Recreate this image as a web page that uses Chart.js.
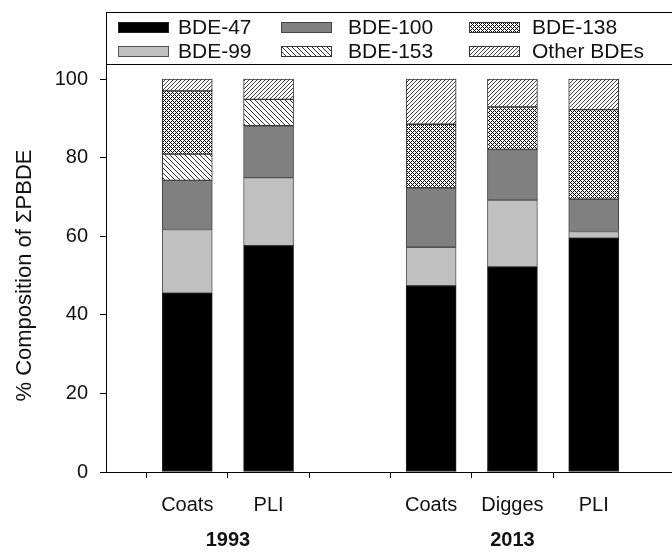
<!DOCTYPE html>
<html>
<head>
<meta charset="utf-8">
<script src="https://cdn.jsdelivr.net/npm/chart.js@4.4.0/dist/chart.umd.min.js"></script>
<style>
  html, body { margin: 0; padding: 0; background: #fff; overflow: hidden; width: 672px; height: 552px; }
  #wrap { width: 690px; height: 552px; }
</style>
</head>
<body>
<div id="wrap"><canvas id="myChart" width="690" height="552"></canvas></div>
<script>
  // categories (empty slots make the gaps between the year groups)
  var sites = ['', 'Coats', 'PLI', '', 'Coats', 'Digges', 'PLI', ''];
  var groupLabels = ['1993', '2013'];
  var groupSpans = [[1, 2], [4, 6]];

  // % composition, bottom to top
  var bde47  = [null, 45.5, 57.6, null, 47.4, 52.2, 59.5, null];
  var bde99  = [null, 16.2, 17.3, null,  9.8, 17.0,  1.7, null];
  var bde100 = [null, 12.5, 13.2, null, 15.1, 12.9,  8.2, null];
  var bde153 = [null,  6.7,  6.7, null,  0,    0,    0,   null];
  var bde138 = [null, 16.1,  0,   null, 16.2, 10.8, 22.8, null];
  var other  = [null,  3.0,  5.2, null, 11.5,  7.1,  7.8, null];

  var yTicks = [0, 20, 40, 60, 80, 100];
  var yTitle = '% Composition of \u03A3PBDE';

  var FONT = "'Liberation Sans', Arial, sans-serif";

  function makePattern(size, fn, ink) {
    var c = document.createElement('canvas');
    c.width = size; c.height = size;
    var g = c.getContext('2d');
    g.fillStyle = '#fff';
    g.fillRect(0, 0, size, size);
    g.fillStyle = ink;
    for (var x = 0; x < size; x++) {
      for (var y = 0; y < size; y++) {
        if (fn(x, y)) g.fillRect(x, y, 1, 1);
      }
    }
    return document.getElementById('myChart').getContext('2d').createPattern(c, 'repeat');
  }

  var hatchBack = makePattern(5, function (x, y) { return (x - y + 5) % 5 === 0; }, '#333');
  var hatchFwd  = makePattern(4, function (x, y) { return (x + y) % 4 === 0; }, '#444');
  var cross     = makePattern(4, function (x, y) { return (x + y) % 4 === 0 || (x - y + 4) % 4 === 0; }, '#000');

  var series = [
    { label: 'BDE-47',     data: bde47,  fill: '#000000', edge: '#222' },
    { label: 'BDE-99',     data: bde99,  fill: '#c0c0c0', edge: '#555' },
    { label: 'BDE-100',    data: bde100, fill: '#808080', edge: '#444' },
    { label: 'BDE-153',    data: bde153, fill: hatchBack, edge: '#333' },
    { label: 'BDE-138',    data: bde138, fill: cross,     edge: '#333' },
    { label: 'Other BDEs', data: other,  fill: hatchFwd,  edge: '#333' }
  ];

  var extras = {
    id: 'extras',
    afterDraw: function (chart) {
      var ctx = chart.ctx;
      var area = chart.chartArea;
      ctx.save();

      // legend box inside the top of the plot
      ctx.fillStyle = '#fff';
      ctx.fillRect(area.left, 12, 700, 53);
      ctx.strokeStyle = '#000';
      ctx.lineWidth = 1;
      ctx.strokeRect(area.left + 0.5, 12.5, 700, 52);
      var colSw = [118, 281, 469];
      var colTx = [178, 348, 532];
      var rowY = [27, 51];
      ctx.font = '21px ' + FONT;
      ctx.textBaseline = 'middle';
      ctx.textAlign = 'left';
      chart.data.datasets.forEach(function (ds, i) {
        var col = Math.floor(i / 2), row = i % 2;
        ctx.fillStyle = ds.backgroundColor;
        ctx.fillRect(colSw[col], rowY[row] - 5, 50, 10);
        ctx.strokeStyle = ds.borderColor;
        ctx.strokeRect(colSw[col] + 0.5, rowY[row] - 5 + 0.5, 50, 10);
        ctx.fillStyle = '#111';
        ctx.fillText(ds.label, colTx[col], rowY[row] + 1);
      });

      // y title, centred on the 0-100 span
      var ys = chart.scales.y;
      var yMid = (ys.getPixelForValue(0) + ys.getPixelForValue(100)) / 2;
      ctx.save();
      ctx.translate(25, yMid);
      ctx.rotate(-Math.PI / 2);
      ctx.textAlign = 'center';
      ctx.font = '22px ' + FONT;
      ctx.fillStyle = '#111';
      ctx.fillText(yTitle, 0, 0);
      ctx.restore();

      // year labels under the site names
      var xs = chart.scales.x;
      ctx.font = 'bold 20px ' + FONT;
      ctx.textAlign = 'center';
      ctx.fillStyle = '#111';
      groupLabels.forEach(function (lab, i) {
        var a = xs.getPixelForValue(groupSpans[i][0]);
        var b = xs.getPixelForValue(groupSpans[i][1]);
        ctx.fillText(lab, (a + b) / 2, 540);
      });
      ctx.restore();
    }
  };

  var ctx = document.getElementById('myChart').getContext('2d');
  var chart = new Chart(ctx, {
    type: 'bar',
    data: {
      labels: sites,
      datasets: series.map(function (s) {
        return {
          label: s.label,
          data: s.data,
          backgroundColor: s.fill,
          borderColor: s.edge,
          borderWidth: 1,
          borderSkipped: false,
          barThickness: 50
        };
      })
    },
    options: {
      responsive: false,
      animation: false,
      events: [],
      layout: { padding: { top: 12, right: 7, left: 0, bottom: 0 } },
      plugins: { legend: { display: false }, tooltip: { enabled: false } },
      scales: {
        x: {
          stacked: true,
          offset: false,
          grid: {
            display: true,
            drawOnChartArea: false,
            drawTicks: true,
            tickLength: 6,
            color: function (c) { return (c.index === 0 || c.index === sites.length - 1) ? 'rgba(0,0,0,0)' : '#000'; }
          },
          border: { display: true, color: '#000', width: 1 },
          ticks: {
            autoSkip: false,
            maxRotation: 0,
            padding: 15,
            color: '#111',
            font: { family: FONT, size: 20 }
          },
          afterFit: function (s) { s.height = 80; }
        },
        y: {
          stacked: true,
          min: 0,
          max: 114,
          afterBuildTicks: function (s) {
            s.ticks = yTicks.map(function (v) { return { value: v }; });
          },
          grid: {
            display: true,
            drawOnChartArea: false,
            drawTicks: true,
            tickLength: 6,
            color: '#000'
          },
          border: { display: true, color: '#000', width: 1 },
          ticks: {
            padding: 12,
            color: '#111',
            font: { family: FONT, size: 20 }
          },
          afterFit: function (s) { s.width = 106; }
        }
      }
    },
    plugins: [extras]
  });
</script>
</body>
</html>
